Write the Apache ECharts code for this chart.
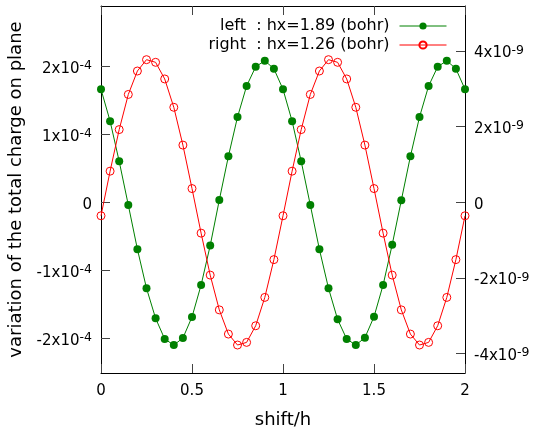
<!DOCTYPE html>
<html>
<head>
<meta charset="utf-8">
<script src="https://cdn.jsdelivr.net/npm/echarts@6/dist/echarts.min.js"></script>
<style>
html,body{margin:0;padding:0;background:#fff;}
#chart{width:534px;height:430px;}
</style>
</head>
<body>
<div id="chart"></div>
<script>
const shift = [0,0.05,0.1,0.15,0.2,0.25,0.3,0.35,0.4,0.45,0.5,0.55,0.6,0.65,0.7,0.75,0.8,0.85,0.9,0.95,
  1,1.05,1.1,1.15,1.2,1.25,1.3,1.35,1.4,1.45,1.5,1.55,1.6,1.65,1.7,1.75,1.8,1.85,1.9,1.95,2];
const leftVals = [1.668e-4,1.20e-4,0.609e-4,-0.034e-4,-0.683e-4,-1.258e-4,-1.70e-4,-2.004e-4,-2.093e-4,-1.99e-4,
  -1.68e-4,-1.21e-4,-0.63e-4,0.04e-4,0.682e-4,1.26e-4,1.716e-4,2.00e-4,2.088e-4,1.97e-4,
  1.668e-4,1.20e-4,0.609e-4,-0.034e-4,-0.685e-4,-1.258e-4,-1.715e-4,-2.004e-4,-2.093e-4,-1.985e-4,
  -1.676e-4,-1.21e-4,-0.617e-4,0.035e-4,0.682e-4,1.26e-4,1.716e-4,2.00e-4,2.088e-4,1.97e-4,1.668e-4];
const rightVals = [-0.36e-9,0.82e-9,1.92e-9,2.85e-9,3.47e-9,3.77e-9,3.70e-9,3.26e-9,2.51e-9,1.51e-9,
  0.36e-9,-0.82e-9,-1.93e-9,-2.85e-9,-3.49e-9,-3.78e-9,-3.71e-9,-3.27e-9,-2.52e-9,-1.52e-9,
  -0.36e-9,0.82e-9,1.92e-9,2.85e-9,3.47e-9,3.77e-9,3.70e-9,3.26e-9,2.51e-9,1.51e-9,
  0.36e-9,-0.82e-9,-1.93e-9,-2.85e-9,-3.49e-9,-3.78e-9,-3.71e-9,-3.27e-9,-2.52e-9,-1.52e-9,-0.36e-9];
const xTicks = [0,0.5,1,1.5,2];
const xTickLabels = ['0','0.5','1','1.5','2'];
const leftTicks = [-2e-4,-1e-4,0,1e-4,2e-4];
const leftTickLabels = ['{b|-2x10}{s|-4}','{b|-1x10}{s|-4}','{b|0}','{b|1x10}{s|-4}','{b|2x10}{s|-4}'];
const rightTicks = [-4e-9,-2e-9,0,2e-9,4e-9];
const rightTickLabels = ['{b|-4x10}{s|-9}','{b|-2x10}{s|-9}','{b|0}','{b|2x10}{s|-9}','{b|4x10}{s|-9}'];
const seriesNames = ['left  : hx=1.89 (bohr)','right  : hx=1.26 (bohr)'];
const xName = 'shift/h';
const yName = 'variation of the total charge on plane';

const FONT = 'DejaVu Sans';
const rich = {
  b: {fontFamily: FONT, fontSize: 15, color: '#000'},
  s: {fontFamily: FONT, fontSize: 12.5, color: '#000', padding: [0,0,6,0]}
};
function lookup(ticks, labels) {
  return function (v) {
    for (let i = 0; i < ticks.length; i++) {
      if (Math.abs(v - ticks[i]) < Math.abs(ticks[1]-ticks[0]) * 1e-3) return labels[i];
    }
    return '';
  };
}
const tickStyle = {show: true, inside: true, length: 9, lineStyle: {color: '#444', width: 1}};
const lineAx = {show: true, onZero: false, lineStyle: {color: '#000', width: 1}};
const legendBase = {
  orient: 'vertical', align: 'right', right: 87,
  itemWidth: 47, itemHeight: 9, padding: 0,
  lineStyle: {width: 1},
  textStyle: {fontFamily: FONT, fontSize: 16, color: '#000', lineHeight: 18, padding: [0,5,0,0]}
};

const chart = echarts.init(document.getElementById('chart'), null, {renderer: 'canvas'});
chart.setOption({
  animation: false,
  backgroundColor: '#fff',
  textStyle: {fontFamily: FONT},
  grid: {left: 101, right: 69, top: 6, bottom: 57, containLabel: false, outerBoundsMode: 'none'},
  legend: [
    Object.assign({}, legendBase, {data: [seriesNames[0]], top: 17}),
    Object.assign({}, legendBase, {data: [seriesNames[1]], top: 36})
  ],
  xAxis: [
    {
      type: 'value', position: 'bottom', min: 0, max: 2,
      axisLine: lineAx, splitLine: {show: false},
      axisTick: Object.assign({}, tickStyle, {customValues: xTicks}),
      axisLabel: {customValues: xTicks, formatter: lookup(xTicks, xTickLabels), margin: 11,
        fontFamily: FONT, fontSize: 15, color: '#000'},
      name: xName, nameLocation: 'middle', nameGap: 38,
      nameTextStyle: {fontFamily: FONT, fontSize: 18, color: '#000'}
    },
    {
      type: 'value', position: 'top', min: 0, max: 2,
      axisLine: lineAx, splitLine: {show: false},
      axisTick: Object.assign({}, tickStyle, {customValues: xTicks}),
      axisLabel: {show: false}
    }
  ],
  yAxis: [
    {
      type: 'value', position: 'left', min: -2.504e-4, max: 2.893e-4,
      axisLine: lineAx, splitLine: {show: false},
      axisTick: Object.assign({}, tickStyle, {customValues: leftTicks}),
      axisLabel: {customValues: leftTicks, formatter: lookup(leftTicks, leftTickLabels), margin: 9,
        padding: [5,0,0,0], rich: rich},
      name: yName, nameLocation: 'middle', nameGap: 73, nameRotate: 90,
      nameTextStyle: {fontFamily: FONT, fontSize: 18, color: '#000'}
    },
    {
      type: 'value', position: 'right', min: -4.52e-9, max: 5.19e-9,
      axisLine: lineAx, splitLine: {show: false},
      axisTick: Object.assign({}, tickStyle, {customValues: rightTicks}),
      axisLabel: {customValues: rightTicks, formatter: lookup(rightTicks, rightTickLabels), margin: 9,
        padding: [5,0,0,0], rich: rich}
    }
  ],
  series: [
    {
      name: seriesNames[0], type: 'line', xAxisIndex: 0, yAxisIndex: 0,
      data: shift.map((x, i) => [x, leftVals[i]]),
      symbol: 'circle', symbolSize: 8, showAllSymbol: true,
      itemStyle: {color: '#008000'},
      lineStyle: {color: '#008000', width: 1}
    },
    {
      name: seriesNames[1], type: 'line', xAxisIndex: 0, yAxisIndex: 1,
      data: shift.map((x, i) => [x, rightVals[i]]),
      symbol: 'circle', symbolSize: 8, showAllSymbol: true,
      itemStyle: {color: 'rgba(255,255,255,0)', borderColor: '#ff0000', borderWidth: 1},
      lineStyle: {color: '#ff0000', width: 1}
    }
  ]
});
</script>
</body>
</html>
